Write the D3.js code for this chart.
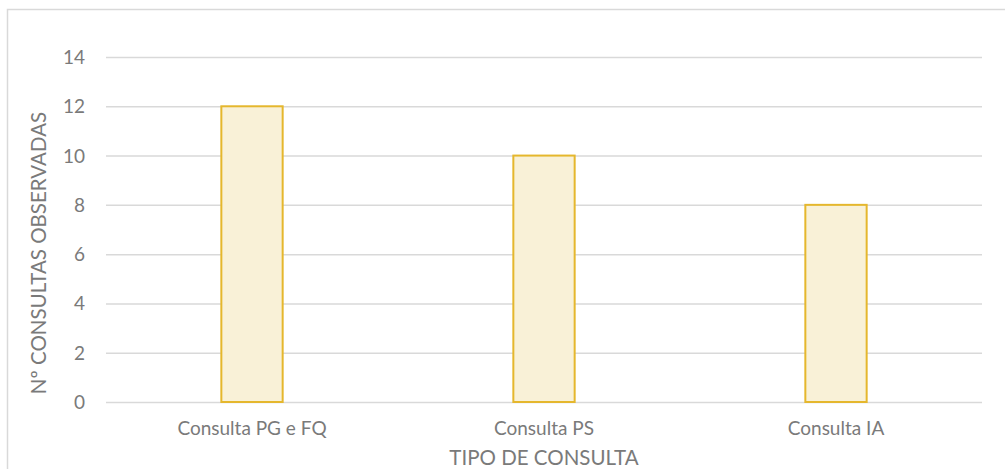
<!DOCTYPE html>
<html><head><meta charset="utf-8">
<script src="https://cdn.jsdelivr.net/npm/d3@7"></script>
<style>
html,body{margin:0;padding:0;background:#fff;}
svg{display:block;}
text{font-family:Lato,"Open Sans",sans-serif;fill:#7a7a7a;}
</style></head>
<body><div id="chart"></div>
<script>
const categories = ["Consulta PG e FQ", "Consulta PS", "Consulta IA"];
const values = [12, 10, 8];
const yTicks = [0, 2, 4, 6, 8, 10, 12, 14];
const xTitle = "TIPO DE CONSULTA";
const yTitle = "Nº CONSULTAS OBSERVADAS";

const W = 1005, H = 469;
const svg = d3.select("#chart").append("svg").attr("width", W).attr("height", H);

// outer chart border (cropped at right/bottom)
svg.append("rect").attr("x", 7.5).attr("y", 9.5).attr("width", W).attr("height", H)
  .attr("fill", "#fff").attr("stroke", "#d9d9d9").attr("stroke-width", 1.5);

const plot = {left: 106, right: 982, top: 57, bottom: 402};
const x = d3.scaleBand().domain(categories).range([plot.left, plot.right])
  .paddingInner(0.79).paddingOuter(0.395);
const y = d3.scaleLinear().domain([0, 14]).range([plot.bottom, plot.top]);

// gridlines
const yAxis = d3.axisLeft(y).tickValues(yTicks).tickSize(-(plot.right - plot.left)).tickPadding(21);
const gy = svg.append("g").attr("transform", `translate(${plot.left},0)`).call(yAxis);
gy.select(".domain").remove();
gy.selectAll(".tick line").attr("stroke", "#d9d9d9").attr("stroke-width", 1.5);
gy.selectAll(".tick text").attr("font-size", 19).attr("fill", "#7a7a7a")
  .attr("font-family", "Lato").attr("dy", "0.34em");

// bars
svg.append("g").selectAll("rect").data(categories).join("rect")
  .attr("x", d => x(d))
  .attr("width", x.bandwidth())
  .attr("y", (d, i) => y(values[i]))
  .attr("height", (d, i) => y(0) - y(values[i]))
  .attr("fill", "#f9f1d7")
  .attr("stroke", "#e5b72d")
  .attr("stroke-width", 2);

// x axis labels
const xAxis = d3.axisBottom(x).tickSize(0).tickPadding(0);
const gx = svg.append("g").attr("transform", `translate(0,${plot.bottom})`).call(xAxis);
gx.select(".domain").remove();
gx.selectAll(".tick text").attr("font-size", 19).attr("fill", "#7a7a7a")
  .attr("font-family", "Lato").attr("dy", null).attr("y", 33);

// axis titles
svg.append("text").attr("x", (plot.left + plot.right) / 2).attr("y", 465)
  .attr("text-anchor", "middle").attr("font-size", 20.5).text(xTitle);
svg.append("text").attr("transform", "translate(46,253) rotate(-90)")
  .attr("text-anchor", "middle").attr("font-size", 20.5).text(yTitle);
</script></body></html>
